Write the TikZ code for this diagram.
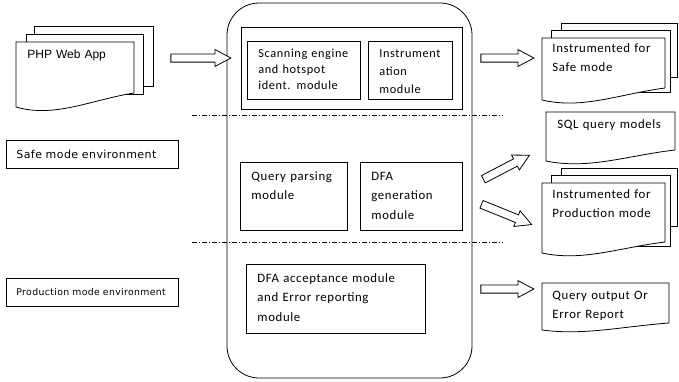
\documentclass[tikz,border=0pt]{standalone}
\usepackage{fontspec}
\setmainfont{Carlito}[LetterSpace=5]
\newfontfamily\appfont{Liberation Sans}
\newfontfamily\envfont{DejaVu Sans}[LetterSpace=4]
\usetikzlibrary{shapes.arrows}

% page with a wavy lower edge: left, top, right, bottom at left, bottom at right
\newcommand\docpage[5]{%
  \filldraw[fill=white] (#1,#2) -- (#3,#2) -- (#3,#5)
    .. controls ({#1+0.63*(#3-#1)},{#5+0.5*(#4-#5)}) and ({#1+0.33*(#3-#1)},{#4+0.8*(#4-#5)}) .. (#1,#4) -- cycle;}
% plain sheet stacked behind a page
\newcommand\docsheet[4]{\filldraw[fill=white] (#1,#2) rectangle (#3,#4);}

\tikzset{
  modbox/.style={draw, anchor=north west, align=left, inner sep=0pt, inner xsep=11pt},
  envbox/.style={draw, anchor=north west, align=left, inner xsep=10pt, inner ysep=0pt,
    text width=152pt, minimum height=28pt},
  doctext/.style={anchor=base west, align=left, inner sep=0pt, text width=118pt},
  fatarrow/.style={draw, fill=white, single arrow, inner sep=3.7pt,
    single arrow head extend=4.3pt, single arrow tip angle=56, minimum height=#1},
  sepline/.style={dash pattern=on 5pt off 2pt on 1pt off 2pt}
}

\begin{document}
\begin{tikzpicture}[x=1pt, y=-1pt, line width=0.8pt, font=\fontsize{12.8}{19.5}\selectfont]
  \useasboundingbox (0,0) rectangle (679,381);

  % engine outline and mode separators
  \node[draw, rounded corners=32pt, minimum width=245pt, minimum height=375pt, inner sep=0pt]
    (engine) at (349.5,190.5) {};
  \draw[sepline] (192,115) -- (503,115);
  \draw[sepline] (192,242) -- (503,242);

  % input application
  \docsheet{34}{26}{153}{86}
  \docsheet{26}{34}{143}{94}
  \docpage{16}{42}{134}{107}{93}
  \node[doctext, font=\appfont\fontsize{12}{14}\selectfont] (php) at (27,58) {PHP Web App};

  % scanning and instrumentation
  \node[draw, anchor=north west, minimum width=221pt, minimum height=82pt, inner sep=0pt]
    (scanframe) at (241,27) {};
  \node[modbox, text width=91pt, text height=16pt, text depth=42pt,
    font=\fontsize{12.3}{15.8}\selectfont] (scan) at (247,41) {Scanning~engine\\and hotspot\\ident. module};
  \node[modbox, text width=62pt, text height=16.5pt, text depth=41.5pt,
    font=\fontsize{12.3}{18}\selectfont] (instr) at (368,41) {Instrument\\ation\\module};

  % safe mode
  \node[modbox, text width=85pt, text height=18pt, text depth=50pt] (qparse) at (240,162) {Query parsing\\module};
  \node[modbox, text width=80pt, text height=18pt, text depth=50pt] (dfagen) at (360,162) {DFA\\generation\\module};

  % production mode
  \node[modbox, text width=157pt, text height=18pt, text depth=51pt] (dfaacc) at (246,264)
    {DFA acceptance module\\and Error reporting\\module};

  % environments
  \node[envbox, font=\envfont\fontsize{11}{12}\selectfont] (safeenv) at (6,140) {Safe mode environment};
  \node[envbox, font=\envfont\fontsize{9.3}{12}\selectfont] (prodenv) at (6,278) {Production mode environment};

  % outputs
  \docsheet{561}{23}{677}{77}
  \docsheet{551}{30}{670}{92}
  \docpage{542}{38}{665}{100}{88}
  \node[doctext] (safedoc) at (552,52) {Instrumented for\\Safe mode};

  \docpage{546}{112}{675}{161}{150}
  \node[doctext] (models) at (557,128) {SQL query models};

  \docsheet{561}{168}{677}{226}
  \docsheet{551}{175}{670}{246}
  \docpage{542}{183}{665}{253}{242}
  \node[doctext] (proddoc) at (552,198) {Instrumented for\\Production mode};

  \docpage{542}{283}{669}{330}{323}
  \node[doctext] (report) at (552,299) {Query output Or\\Error Report};

  % flow
  \node[fatarrow=60pt] (toengine) at (197,58) {};
  \node[fatarrow=53pt] (tosafe) at (503.5,58) {};
  \node[fatarrow=52pt, rotate=27.5] (tomodels) at (503,169) {};
  \node[fatarrow=54pt, rotate=-22] (toprod) at (503,213) {};
  \node[fatarrow=53pt] (toreport) at (503.5,289) {};
\end{tikzpicture}
\end{document}
